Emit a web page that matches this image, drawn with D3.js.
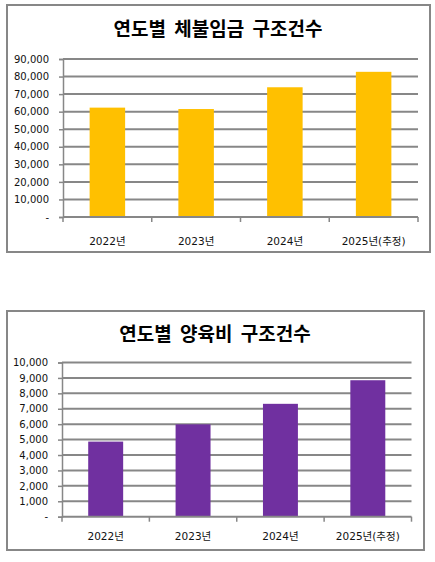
<!DOCTYPE html>
<html>
<head>
<meta charset="utf-8">
<script src="https://cdn.jsdelivr.net/npm/d3@7"></script>
<style>
  body { margin: 0; background: #fff; }
  svg { display: block; }
</style>
</head>
<body>
<div id="chart"></div>
<script>
// values
var years = ["2022년", "2023년", "2024년", "2025년(추정)"];
var wageCases = [62300, 61500, 73900, 82700];
var wageTicks = [0, 10000, 20000, 30000, 40000, 50000, 60000, 70000, 80000, 90000];
var childCases = [4870, 5990, 7320, 8850];
var childTicks = [0, 1000, 2000, 3000, 4000, 5000, 6000, 7000, 8000, 9000, 10000];

var svg = d3.select("#chart").append("svg")
    .attr("width", 435)
    .attr("height", 562);

var gray = "#878787";
var fmt = d3.format(",");

function drawChart(opt) {
    var g = svg.append("g");

    // outer frame
    g.append("rect")
        .attr("x", opt.frame[0])
        .attr("y", opt.frame[1])
        .attr("width", opt.frame[2] - opt.frame[0])
        .attr("height", opt.frame[3] - opt.frame[1])
        .attr("fill", "#fff")
        .attr("stroke", gray)
        .attr("stroke-width", 2);

    g.append("text")
        .attr("x", opt.titleX)
        .attr("y", opt.titleY)
        .attr("text-anchor", "middle")
        .style("font-family", "'Noto Sans CJK KR'")
        .style("font-weight", "bold")
        .style("font-size", "19px")
        .style("word-spacing", "4px")
        .text(opt.title);

    var x = d3.scaleBand()
        .domain(years)
        .range([opt.left, opt.right])
        .paddingInner(0.6)
        .paddingOuter(0.3);

    var y = d3.scaleLinear()
        .domain([0, d3.max(opt.ticks)])
        .range([opt.bottom, opt.top]);

    // gridlines
    g.append("g").selectAll("line")
        .data(opt.ticks.slice(1))
        .join("line")
        .attr("x1", opt.left)
        .attr("x2", opt.right)
        .attr("y1", function(d) { return y(d); })
        .attr("y2", function(d) { return y(d); })
        .attr("stroke", gray)
        .attr("stroke-width", 2);

    // y axis
    var yAxis = g.append("g")
        .attr("transform", "translate(" + opt.left + ",0)")
        .call(d3.axisLeft(y)
            .tickValues(opt.ticks)
            .tickSize(4)
            .tickPadding(10)
            .tickFormat(function(d) { return d === 0 ? "-  " : fmt(d); }));
    yAxis.select(".domain").attr("stroke", gray).attr("stroke-width", 1.5);
    yAxis.selectAll(".tick line").attr("stroke", gray).attr("stroke-width", 1.5);
    yAxis.selectAll("text")
        .style("font-family", "'DejaVu Sans'")
        .style("font-size", "10px")
        .attr("fill", "#111");

    // bars
    g.append("g").selectAll("rect")
        .data(opt.values)
        .join("rect")
        .attr("x", function(d, i) { return x(years[i]); })
        .attr("y", function(d) { return y(d); })
        .attr("width", x.bandwidth())
        .attr("height", function(d) { return opt.bottom - y(d); })
        .attr("fill", opt.color);

    // x axis
    var xAxis = g.append("g")
        .attr("transform", "translate(0," + opt.bottom + ")");
    xAxis.append("line")
        .attr("x1", opt.left)
        .attr("x2", opt.right)
        .attr("stroke", gray)
        .attr("stroke-width", 2);
    var step = x.step();
    xAxis.selectAll("line.tk")
        .data(d3.range(years.length + 1))
        .join("line")
        .attr("class", "tk")
        .attr("x1", function(i) { return opt.left + i * step; })
        .attr("x2", function(i) { return opt.left + i * step; })
        .attr("y1", 0)
        .attr("y2", 5)
        .attr("stroke", gray)
        .attr("stroke-width", 1.5);
    xAxis.selectAll("text")
        .data(years)
        .join("text")
        .attr("x", function(d) { return x(d) + x.bandwidth() / 2; })
        .attr("y", opt.labelDy)
        .attr("text-anchor", "middle")
        .style("font-family", "'DejaVu Sans', 'Noto Sans CJK KR'")
        .style("font-size", "10.5px")
        .attr("fill", "#111")
        .text(function(d) { return d; });
}

drawChart({
    title: "연도별 체불임금 구조건수",
    frame: [7, 5, 430, 252],
    titleX: 218, titleY: 36,
    left: 63, right: 418, top: 59, bottom: 217,
    ticks: wageTicks,
    values: wageCases,
    color: "#FFC000",
    labelDy: 28
});

drawChart({
    title: "연도별 양육비 구조건수",
    frame: [7, 311, 424, 550],
    titleX: 215, titleY: 341,
    left: 62, right: 411.5, top: 362.5, bottom: 516.7,
    ticks: childTicks,
    values: childCases,
    color: "#7030A0",
    labelDy: 23
});
</script>
</body>
</html>
